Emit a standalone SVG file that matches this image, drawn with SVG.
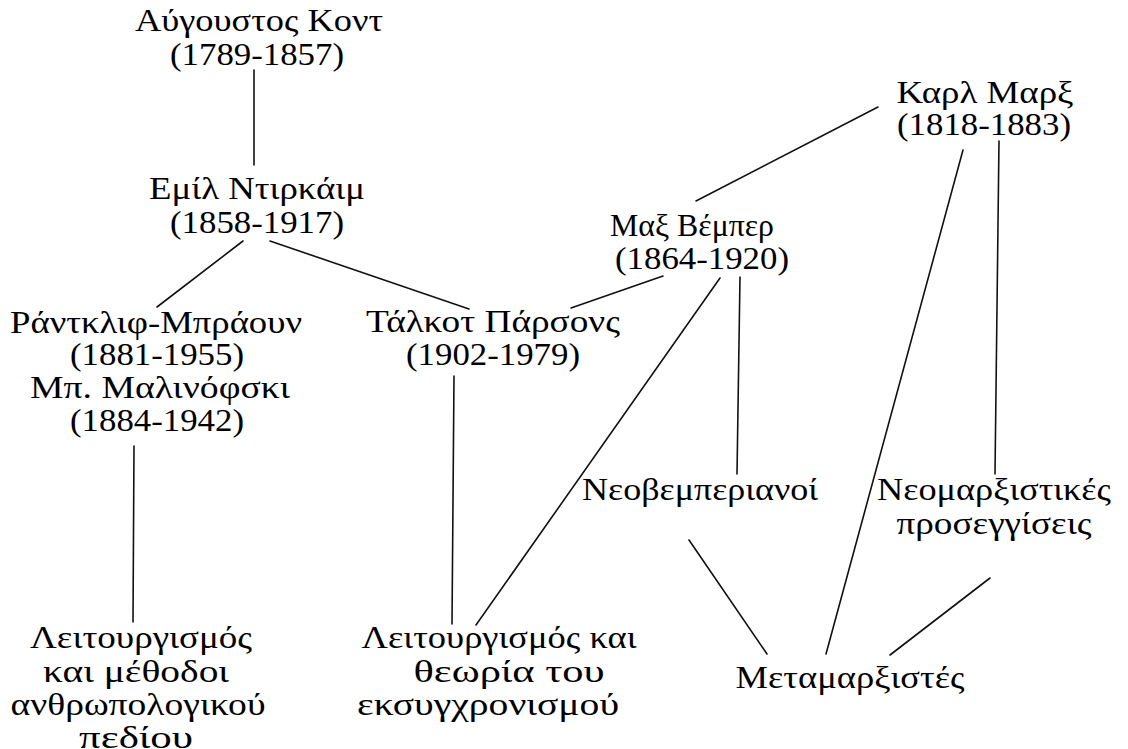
<svg xmlns="http://www.w3.org/2000/svg" width="1128" height="749" viewBox="0 0 1128 749">
<style>
.t{font-family:"Liberation Serif","Times New Roman",serif;font-size:31px;fill:#000;text-anchor:middle}
.c line{stroke:#111;stroke-width:1.6;stroke-linecap:round}
</style>
<rect width="1128" height="749" fill="#fff"/>
<g class="c" id="connectors">
<line x1="254" y1="70" x2="254" y2="165"/>
<line x1="243" y1="241" x2="157" y2="307"/>
<line x1="270" y1="241" x2="469" y2="309"/>
<line x1="134" y1="446" x2="133" y2="622"/>
<line x1="454" y1="376" x2="452" y2="624"/>
<line x1="878" y1="107" x2="696" y2="201"/>
<line x1="663" y1="276" x2="571" y2="308"/>
<line x1="720" y1="278" x2="476" y2="625"/>
<line x1="740" y1="277" x2="737" y2="474"/>
<line x1="963" y1="150" x2="826" y2="654"/>
<line x1="999" y1="141" x2="995" y2="474"/>
<line x1="689" y1="540" x2="767" y2="654"/>
<line x1="990" y1="578" x2="890" y2="655"/>
</g>
<g id="comte">
<text class="t" x="259" y="31" textLength="248" lengthAdjust="spacingAndGlyphs">Αύγουστος Κοντ</text>
<text class="t" x="257" y="65" textLength="174" lengthAdjust="spacingAndGlyphs">(1789-1857)</text>
</g>
<g id="durkheim">
<text class="t" x="257" y="199" textLength="216" lengthAdjust="spacingAndGlyphs">Εμίλ Ντιρκάιμ</text>
<text class="t" x="257" y="233" textLength="174" lengthAdjust="spacingAndGlyphs">(1858-1917)</text>
</g>
<g id="radcliffe">
<text class="t" x="156" y="333" textLength="292" lengthAdjust="spacingAndGlyphs">Ράντκλιφ-Μπράουν</text>
<text class="t" x="157" y="365" textLength="174" lengthAdjust="spacingAndGlyphs">(1881-1955)</text>
<text class="t" x="160" y="398" textLength="260" lengthAdjust="spacingAndGlyphs">Μπ. Μαλινόφσκι</text>
<text class="t" x="157" y="431" textLength="174" lengthAdjust="spacingAndGlyphs">(1884-1942)</text>
</g>
<g id="parsons">
<text class="t" x="493" y="332" textLength="254" lengthAdjust="spacingAndGlyphs">Τάλκοτ Πάρσονς</text>
<text class="t" x="493" y="365" textLength="174" lengthAdjust="spacingAndGlyphs">(1902-1979)</text>
</g>
<g id="weber">
<text class="t" x="692" y="236" textLength="164" lengthAdjust="spacingAndGlyphs">Μαξ Βέμπερ</text>
<text class="t" x="702" y="269" textLength="174" lengthAdjust="spacingAndGlyphs">(1864-1920)</text>
</g>
<g id="marx">
<text class="t" x="985" y="103" textLength="177" lengthAdjust="spacingAndGlyphs">Καρλ Μαρξ</text>
<text class="t" x="984" y="135" textLength="174" lengthAdjust="spacingAndGlyphs">(1818-1883)</text>
</g>
<g id="neoweberians">
<text class="t" x="700" y="500" textLength="236" lengthAdjust="spacingAndGlyphs">Νεοβεμπεριανοί</text>
</g>
<g id="neomarxist">
<text class="t" x="994" y="500" textLength="234" lengthAdjust="spacingAndGlyphs">Νεομαρξιστικές</text>
<text class="t" x="994" y="534" textLength="195" lengthAdjust="spacingAndGlyphs">προσεγγίσεις</text>
</g>
<g id="postmarxists">
<text class="t" x="850" y="688" textLength="229" lengthAdjust="spacingAndGlyphs">Μεταμαρξιστές</text>
</g>
<g id="functionalism-anthro">
<text class="t" x="141" y="648" textLength="222" lengthAdjust="spacingAndGlyphs">Λειτουργισμός</text>
<text class="t" x="136" y="682" textLength="186" lengthAdjust="spacingAndGlyphs">και μέθοδοι</text>
<text class="t" x="138" y="715" textLength="255" lengthAdjust="spacingAndGlyphs">ανθρωπολογικού</text>
<text class="t" x="136" y="748" textLength="114" lengthAdjust="spacingAndGlyphs">πεδίου</text>
</g>
<g id="functionalism-modern">
<text class="t" x="499" y="648" textLength="275" lengthAdjust="spacingAndGlyphs">Λειτουργισμός και</text>
<text class="t" x="509" y="682" textLength="191" lengthAdjust="spacingAndGlyphs">θεωρία του</text>
<text class="t" x="488" y="715" textLength="262" lengthAdjust="spacingAndGlyphs">εκσυγχρονισμού</text>
</g>
</svg>
